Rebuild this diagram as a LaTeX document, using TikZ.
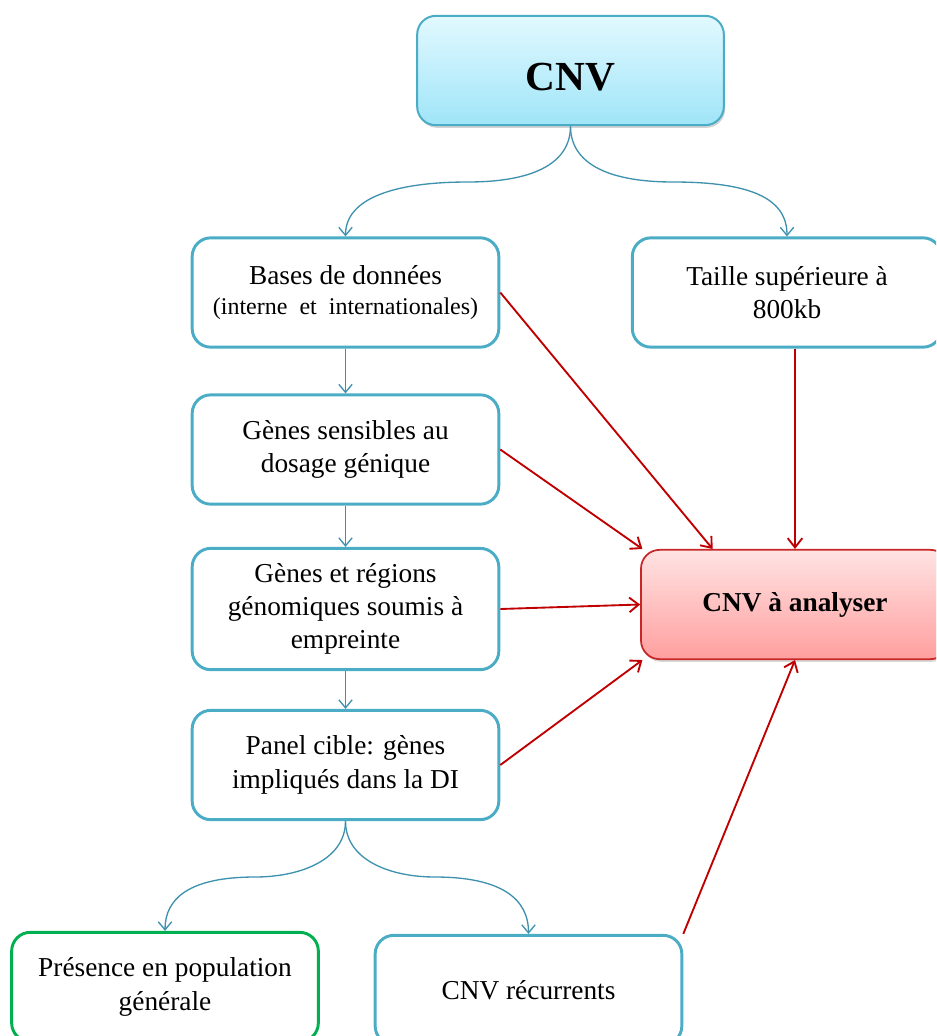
\documentclass[tikz,border=0pt]{standalone}
\usepackage{fontspec}
\setmainfont{Liberation Serif}
\usetikzlibrary{arrows.meta,shadows}
\definecolor{boxblue}{HTML}{4BACC6}
\definecolor{lineblue}{HTML}{3F92AE}
\definecolor{linered}{HTML}{C00000}
\definecolor{boxgreen}{HTML}{00B050}
\definecolor{cnvtop}{HTML}{E2F9FF}
\definecolor{cnvbot}{HTML}{9FE5F8}
\definecolor{redtop}{HTML}{FFE3E3}
\definecolor{redbot}{HTML}{FF9F9F}

\begin{document}
\begin{tikzpicture}[
  x=0.75pt, y=-0.75pt,
  box/.style={draw=boxblue, line width=2.2pt, rounded corners=14pt, fill=white,
    minimum width=230pt, minimum height=82pt, align=center, inner sep=2pt,
    font=\fontsize{20.5}{25}\selectfont},
  topbox/.style={box, line width=1.5pt, top color=cnvtop, bottom color=cnvbot,
    drop shadow={opacity=0.35, shadow xshift=1pt, shadow yshift=-2pt},
    text height=30pt, text depth=0pt,
    font=\fontsize{31}{36}\selectfont\bfseries},
  goalbox/.style={box, draw=linered!85, line width=1.3pt, top color=redtop, bottom color=redbot,
    drop shadow={opacity=0.3, shadow xshift=1pt, shadow yshift=-2pt},
    font=\fontsize{20.5}{25}\selectfont\bfseries},
  bluearrow/.style={draw=lineblue, line width=1pt, -{Straight Barb[length=6pt,width=10pt]}},
  redarrow/.style={draw=linered, line width=1.4pt, -{Straight Barb[length=7pt,width=11pt]}}
]
  \useasboundingbox (0,0) rectangle (936,1036);
  \clip (0,0) rectangle (936,1036);

  % boxes
  \node[topbox] (cnv) at (570.5,70.5) {CNV};
  \node[box] (bases) at (345.5,292.5) {Bases de données\\[-2pt]{\fontsize{18}{22}\selectfont(interne\ \ et\ \ internationales)}};
  \node[box, minimum width=232pt] (taille) at (787,292.5) {Taille supérieure à\\800kb};
  \node[box] (genes) at (345.5,449.5) {Gènes sensibles au\\dosage génique};
  \node[box, minimum height=91pt] (regions) at (345.5,609) {Gènes et régions\\génomiques soumis à\\empreinte};
  \node[box] (panel) at (345.5,765) {Panel cible: gènes\\impliqués dans la DI};
  \node[goalbox, minimum width=231pt] (analyser) at (795,604.5) {CNV à analyser};
  \node[box, draw=boxgreen] (presence) at (165,987) {Présence en population\\générale};
  \node[box] (recurrents) at (528.5,990) {CNV récurrents};

  % branching curves
  \coordinate (topl) at (468,182);
  \coordinate (topr) at (673,182);
  \coordinate (botl) at (255,877);
  \coordinate (botr) at (435,877);
  \draw[bluearrow] (cnv.south) .. controls (570.5,165) and (530,182) .. (topl)
    .. controls (395,182) and (345.5,198) .. (bases.north);
  \draw[bluearrow] (cnv.south) .. controls (570.5,165) and (611,182) .. (topr)
    .. controls (750,182) and (787,198) .. (taille.north);
  \draw[bluearrow] (panel.south) .. controls (345.5,860) and (300,877) .. (botl)
    .. controls (190,877) and (165,898) .. (presence.north);
  \draw[bluearrow] (panel.south) .. controls (345.5,860) and (390,877) .. (botr)
    .. controls (500,877) and (528.5,898) .. (recurrents.north);

  % vertical chain
  \draw[bluearrow] (bases) -- (genes);
  \draw[bluearrow] (genes) -- (regions);
  \draw[bluearrow] (regions) -- (panel);

  % red arrows
  \draw[redarrow] (bases.east) -- (analyser.146);
  \draw[redarrow] (genes.east) -- (analyser.160);
  \draw[redarrow] (regions.east) -- (analyser.west);
  \draw[redarrow] (panel.east) -- (analyser.-160);
  \draw[redarrow] (recurrents.north east) -- (analyser.south);
  \draw[redarrow] (taille.south -| analyser.north) -- (analyser.north);
\end{tikzpicture}
\end{document}
